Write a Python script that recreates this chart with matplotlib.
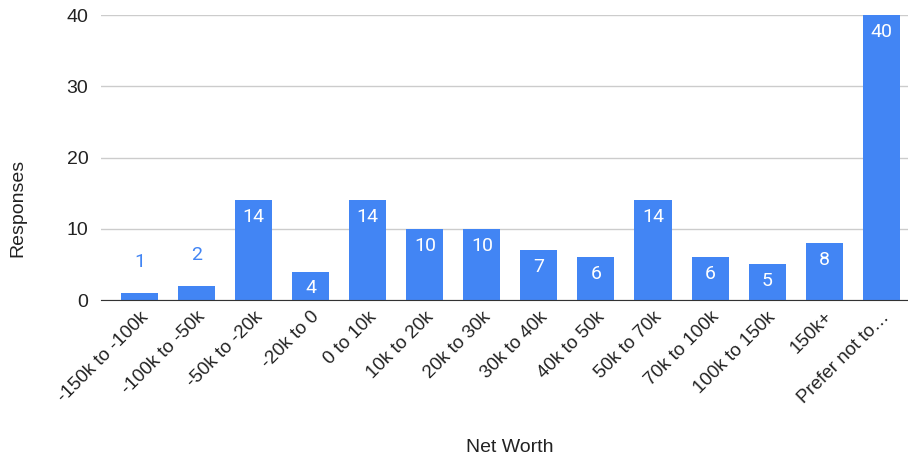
import matplotlib.pyplot as plt
import numpy as np

categories = ['-150k to -100k', '-100k to -50k', '-50k to -20k', '-20k to 0',
              '0 to 10k', '10k to 20k', '20k to 30k', '30k to 40k', '40k to 50k',
              '50k to 70k', '70k to 100k', '100k to 150k', '150k+', 'Prefer not to…']
responses = [1, 2, 14, 4, 14, 10, 10, 7, 6, 14, 6, 5, 8, 40]

plt.rcParams['font.family'] = ['Liberation Sans', 'DejaVu Sans']
blue = '#4285F4'

fig = plt.figure(figsize=(9.08, 4.61), dpi=100)
ax = fig.add_axes([0.111, 0.349, 0.889, 0.618])

x = np.arange(len(categories))
ax.bar(x, responses, 0.65, color=blue, zorder=3)

for xi, v in zip(x, responses):
    if v >= 3:
        ax.annotate(str(v), (xi, v), xytext=(0, -12), textcoords='offset points',
                    ha='center', va='center', color='white', fontsize=14,
                    family=['Roboto', 'DejaVu Sans'], zorder=4)
    else:
        ax.annotate(str(v), (xi, v), xytext=(0, 22), textcoords='offset points',
                    ha='center', va='center', color=blue, fontsize=14,
                    family=['Roboto', 'DejaVu Sans'], zorder=4)

ax.set_ylim(0, 40)
ax.set_xlim(-0.68, 13.47)
ax.set_yticks([0, 10, 20, 30, 40])
ax.set_xticks(x)
ax.set_xticklabels(categories, rotation=45, ha='right', rotation_mode='anchor',
                   fontsize=13.5, color='#222222')
ax.tick_params(axis='y', labelsize=14, colors='#222222', length=0, pad=9)
ax.tick_params(axis='x', length=0, pad=6)

ax.grid(axis='y', color='#cccccc', linewidth=1, zorder=0)
for s in ['top', 'right', 'left']:
    ax.spines[s].set_visible(False)
ax.spines['bottom'].set_color('#333333')
ax.spines['bottom'].set_zorder(5)

fig.text(18 / 908, 1 - 208 / 461, 'Responses', rotation=90, ha='center', va='center',
         fontsize=14, color='#222222')
fig.text(510 / 908, 1 - 447 / 461, 'Net Worth', ha='center', va='center',
         fontsize=14, color='#222222')

fig.savefig('out.png', dpi=100)
